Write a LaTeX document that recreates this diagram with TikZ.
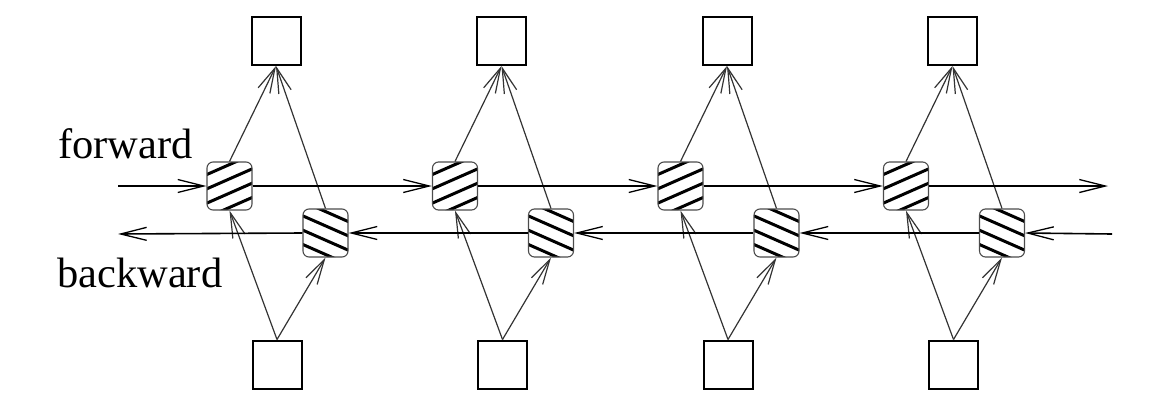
\documentclass[tikz,border=0pt]{standalone}
\usepackage{fontspec}
\setmainfont{Liberation Serif}
\usetikzlibrary{arrows.meta,calc}
\tikzset{
  conn/.style={line width=1.2pt, draw=black!80, -{Straight Barb[length=25pt,width=13pt,line width=1.2pt]}},
  hconn/.style={line width=1.6pt, draw=black, -{Straight Barb[length=26pt,width=13pt,line width=1.3pt]}},
  iobox/.style={draw=black, line width=2pt, minimum width=49pt, minimum height=48pt, inner sep=0pt},
  hatch/.style={draw=black, line width=3pt},
  cellbase/.style={draw=black!70, line width=1.1pt, rounded corners=6pt, minimum width=45pt, minimum height=48pt, inner sep=0pt},
  fcell/.style={cellbase, path picture={
     \foreach \k in {-1.5,-0.5,0.5,1.5}{
       \draw[hatch] ($(path picture bounding box.center)+(-40pt,{\k*14.3pt-17.6pt})$) -- ($(path picture bounding box.center)+(40pt,{\k*14.3pt+17.6pt})$);
     }}},
  bcell/.style={cellbase, path picture={
     \foreach \k in {-1.5,-0.5,0.5,1.5}{
       \draw[hatch] ($(path picture bounding box.center)+(-40pt,{\k*14.3pt+17.6pt})$) -- ($(path picture bounding box.center)+(40pt,{\k*14.3pt-17.6pt})$);
     }}},
  lbl/.style={anchor=base west, inner sep=0pt, font=\fontsize{42.5}{50}\selectfont}
}
\begin{document}
\begin{tikzpicture}[x=1pt,y=-1pt]
\useasboundingbox (0,0) rectangle (1172,410);
\node[lbl] (fw) at (58,158) {forward};
\node[lbl] (bw) at (57,287) {backward};
\foreach \i/\c in {1/276,2/501.5,3/727,4/952.5}{
  \node[iobox] (t\i) at (\c,41) {};
  \node[iobox] (b\i) at (\c+1,364.5) {};
  \node[fcell] (f\i) at (\c-46.5,186) {};
  \node[bcell] (r\i) at (\c+49.5,233) {};
}
\coordinate (fin) at (118,186);
\coordinate (fout) at (1108,186);
\coordinate (bin) at (1112,234);
\coordinate (bout) at (118,234);
% vertical connectors
\foreach \i in {1,...,4}{
  \draw[conn] (f\i.north) -- (t\i.south);
  \draw[conn] (r\i.north) -- (t\i.south);
  \draw[conn] (b\i.north) -- (f\i.south);
  \draw[conn] (b\i.north) -- (r\i.south);
}
% forward chain
\draw[hconn] (fin) -- (f1.west);
\draw[hconn] (f1.east) -- (f2.west);
\draw[hconn] (f2.east) -- (f3.west);
\draw[hconn] (f3.east) -- (f4.west);
\draw[hconn] (f4.east) -- (fout);
% backward chain
\draw[hconn] (bin) -- (r4.east);
\draw[hconn] (r4.west) -- (r3.east);
\draw[hconn] (r3.west) -- (r2.east);
\draw[hconn] (r2.west) -- (r1.east);
\draw[hconn] (r1.west) -- (bout);
\end{tikzpicture}
\end{document}
